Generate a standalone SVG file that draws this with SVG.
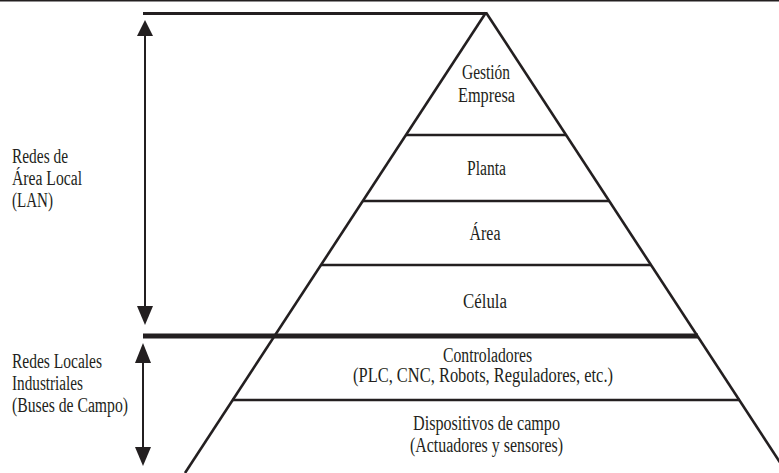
<svg xmlns="http://www.w3.org/2000/svg" width="779" height="473" viewBox="0 0 779 473">
  <style>
    .ln { stroke: #231f20; fill: none; stroke-linecap: butt; }
    .thin { stroke-width: 2.6; }
    .thick { stroke-width: 5; }
    .side { stroke-width: 2.6; }
    .lbl { font-family: "Liberation Serif", "DejaVu Serif", "Noto Serif", serif; font-size: 20px; fill: #231f20; }
    .c { text-anchor: middle; }
    .head { fill: #231f20; }
  </style>

  <!-- page rule -->
  <line class="ln" x1="0" y1="0.8" x2="779" y2="0.8" stroke-width="1.6"/>

  <!-- pyramid outline and level dividers -->
  <g id="pyramid">
    <line class="ln" x1="143" y1="13.5" x2="487" y2="13.5" stroke-width="3.2"/>
    <line class="ln side" x1="486" y1="12.5" x2="185" y2="473"/>
    <line class="ln side" x1="486" y1="12.5" x2="787" y2="473"/>
    <line class="ln thin" x1="406" y1="135" x2="566" y2="135"/>
    <line class="ln thin" x1="363" y1="201" x2="609" y2="201"/>
    <line class="ln thin" x1="321" y1="265" x2="651" y2="265"/>
    <line class="ln thick" x1="143" y1="336" x2="698" y2="336"/>
    <line class="ln thin" x1="232" y1="400" x2="740" y2="400"/>
  </g>

  <g id="gestion">
    <text class="lbl c" x="486" y="79" textLength="48" lengthAdjust="spacingAndGlyphs">Gestión</text>
    <text class="lbl c" x="486.5" y="102" textLength="57" lengthAdjust="spacingAndGlyphs">Empresa</text>
  </g>
  <g id="planta">
    <text class="lbl c" x="486.5" y="175" textLength="39" lengthAdjust="spacingAndGlyphs">Planta</text>
  </g>
  <g id="area">
    <text class="lbl c" x="485" y="240" textLength="31" lengthAdjust="spacingAndGlyphs">Área</text>
  </g>
  <g id="celula">
    <text class="lbl c" x="485" y="308" textLength="44" lengthAdjust="spacingAndGlyphs">Célula</text>
  </g>
  <g id="controladores">
    <text class="lbl c" x="487.5" y="362" textLength="89" lengthAdjust="spacingAndGlyphs">Controladores</text>
    <text class="lbl c" x="483" y="382" textLength="260" lengthAdjust="spacingAndGlyphs">(PLC, CNC, Robots, Reguladores, etc.)</text>
  </g>
  <g id="dispositivos">
    <text class="lbl c" x="486.5" y="430" textLength="147" lengthAdjust="spacingAndGlyphs">Dispositivos de campo</text>
    <text class="lbl c" x="486.5" y="452" textLength="153" lengthAdjust="spacingAndGlyphs">(Actuadores y sensores)</text>
  </g>

  <g id="lan">
    <text class="lbl" x="12" y="163" textLength="56" lengthAdjust="spacingAndGlyphs">Redes de</text>
    <text class="lbl" x="12" y="185" textLength="70" lengthAdjust="spacingAndGlyphs">Área Local</text>
    <text class="lbl" x="12" y="207" textLength="41" lengthAdjust="spacingAndGlyphs">(LAN)</text>
  </g>
  <g id="buses">
    <text class="lbl" x="12" y="368" textLength="90" lengthAdjust="spacingAndGlyphs">Redes Locales</text>
    <text class="lbl" x="12" y="390" textLength="71" lengthAdjust="spacingAndGlyphs">Industriales</text>
    <text class="lbl" x="12" y="412" textLength="116" lengthAdjust="spacingAndGlyphs">(Buses de Campo)</text>
  </g>

  <!-- range arrows -->
  <g id="connectors">
    <line class="ln" x1="145" y1="34" x2="145" y2="308" stroke-width="2"/>
    <polygon class="head" points="145,20 137,36 153,36"/>
    <polygon class="head" points="145,325 137,306 153,306"/>
    <line class="ln" x1="143" y1="360" x2="143" y2="450" stroke-width="2"/>
    <polygon class="head" points="143,343 135,363 151,363"/>
    <polygon class="head" points="143,466 135,447 151,447"/>
  </g>
</svg>
